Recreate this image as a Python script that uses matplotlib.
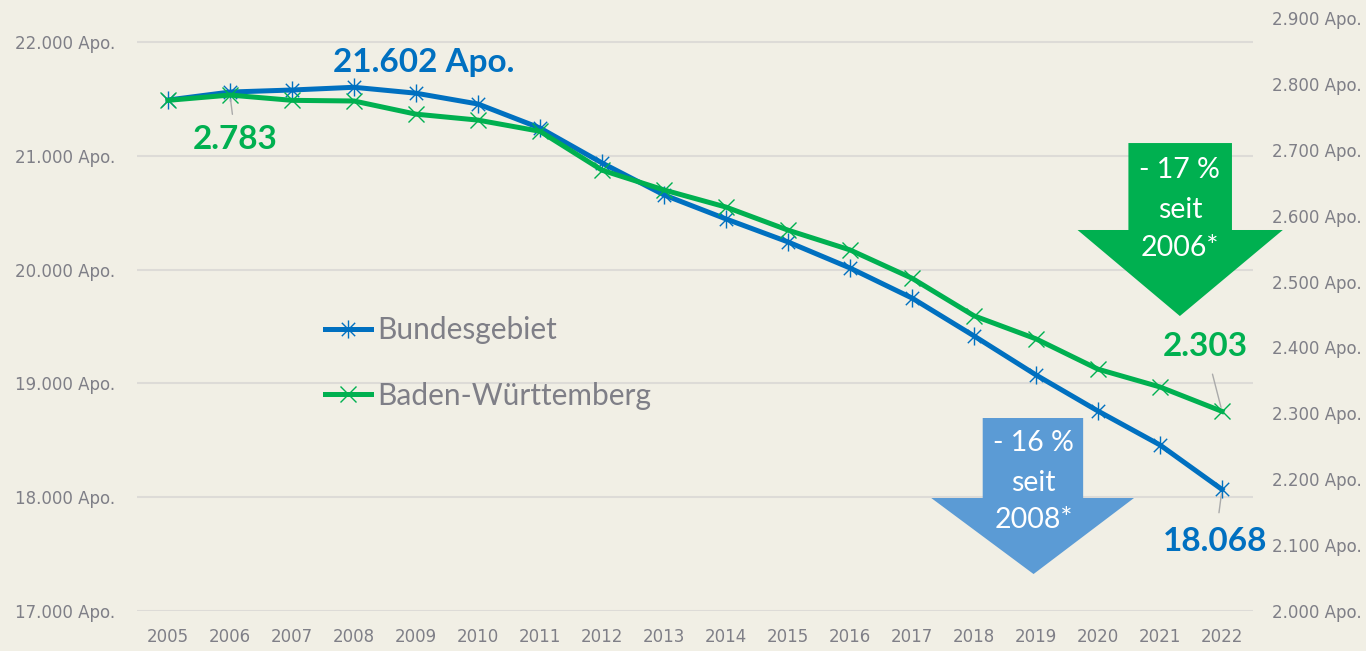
import matplotlib.pyplot as plt
from matplotlib.path import Path
from matplotlib.patches import Polygon
from matplotlib.ticker import FuncFormatter

years = list(range(2005, 2023))
bund = [21490, 21560, 21578, 21602, 21550, 21455, 21244, 20937, 20656,
        20445, 20243, 20014, 19750, 19417, 19074, 18757, 18459, 18068]
bw = [2775, 2783, 2775, 2774, 2754, 2745, 2728, 2669, 2639,
      2613, 2578, 2548, 2505, 2448, 2413, 2367, 2340, 2303]
left_ticks = [17000, 18000, 19000, 20000, 21000, 22000]
right_ticks = [2000, 2100, 2200, 2300, 2400, 2500, 2600, 2700, 2800, 2900]

bg = '#f1efe5'
blue = '#0070c0'
green = '#00b050'
lblue = '#5b9bd5'
grey = '#7f7f87'
font_txt = ['Lato', 'DejaVu Sans']

def apo(v, pos):
    return '{:,.0f} Apo.'.format(v).replace(',', '.')

# Excel-Stern: X plus senkrechter Strich
star = Path([(-1, -1), (1, 1), (-1, 1), (1, -1), (0, -1.35), (0, 1.35)],
            [Path.MOVETO, Path.LINETO, Path.MOVETO, Path.LINETO, Path.MOVETO, Path.LINETO])

fig = plt.figure(figsize=(13.66, 6.51), dpi=100, facecolor=bg)
ax = fig.add_axes([0.1003, 0.0614, 0.8170, 0.9110])
ax.set_facecolor(bg)
ax2 = ax.twinx()

l1, = ax.plot(years, bund, color=blue, lw=3.6, marker=star, ms=13, mew=1,
              mfc='none', mec=blue, label='Bundesgebiet', zorder=3)
l2, = ax2.plot(years, bw, color=green, lw=3.6, marker='x', ms=11, mew=1,
               mec=green, label='Baden-Württemberg', zorder=3)

ax.set_xlim(2004.5, 2022.5)
ax.set_ylim(17000, 22211)
ax2.set_ylim(2000, 2900)
ax.set_yticks(left_ticks)
ax2.set_yticks(right_ticks)
ax.set_xticks(years)
ax.yaxis.set_major_formatter(FuncFormatter(apo))
ax2.yaxis.set_major_formatter(FuncFormatter(apo))
ax.grid(axis='y', color='#dddbd7', lw=1.5)
ax.set_axisbelow(True)
for a in (ax, ax2):
    for s in a.spines.values():
        s.set_visible(False)
ax.tick_params(axis='y', length=0, pad=16, labelsize=12, labelcolor=grey)
ax2.tick_params(axis='y', length=0, pad=14, labelsize=12, labelcolor=grey)
ax.tick_params(axis='x', length=0, pad=12, labelsize=12, labelcolor=grey)
for t in ax.get_xticklabels():
    t.set_family(['Liberation Sans Narrow', 'DejaVu Sans'])

# Beschriftungen
ax.text(2009.12, 21824, '21.602 Apo.', color=blue, fontsize=24, fontweight='bold',
        family=font_txt, ha='center', va='center')
ax2.annotate('2.783', xy=(2006, 2783), xytext=(2006.09, 2715), color=green,
             fontsize=24, fontweight='bold', family=font_txt, ha='center', va='center',
             arrowprops=dict(arrowstyle='-', color='#aaaaaa', lw=1, shrinkA=6, shrinkB=3))
ax2.annotate('2.303', xy=(2022, 2303), xytext=(2021.73, 2402), color=green,
             fontsize=24, fontweight='bold', family=font_txt, ha='center', va='center',
             arrowprops=dict(arrowstyle='-', color='#aaaaaa', lw=1, shrinkA=8, shrinkB=3))
ax.annotate('18.068', xy=(2022, 18068), xytext=(2021.89, 17615), color=blue,
            fontsize=24, fontweight='bold', family=font_txt, ha='center', va='center',
            arrowprops=dict(arrowstyle='-', color='#aaaaaa', lw=1, shrinkA=8, shrinkB=3))

# Pfeile
g_arrow = [(2020.49, 21112), (2022.16, 21112), (2022.16, 20348), (2022.98, 20348),
           (2021.32, 19592), (2019.67, 20348), (2020.49, 20348)]
b_arrow = [(2018.14, 18696), (2019.76, 18696), (2019.76, 17993), (2020.58, 17993),
           (2018.96, 17325), (2017.31, 17993), (2018.14, 17993)]
ax2.add_patch(Polygon(g_arrow, closed=True, color=green, lw=0, zorder=5,
                      transform=ax.transData, clip_on=False))
ax2.add_patch(Polygon(b_arrow, closed=True, color=lblue, lw=0, zorder=5,
                      transform=ax.transData, clip_on=False))
for txt, y in zip(['- 17 %', 'seit', '2006*'], [20875, 20524, 20190]):
    ax2.text(2021.32, y, txt, transform=ax.transData, color='white', fontsize=20.5,
             family=font_txt, ha='center', va='center', zorder=6)
for txt, y in zip(['- 16 %', 'seit', '2008*'], [18476, 18125, 17800]):
    ax2.text(2018.96, y, txt, transform=ax.transData, color='white', fontsize=20.5,
             family=font_txt, ha='center', va='center', zorder=6)

leg = ax2.legend(handles=[l1, l2], loc='upper left', bbox_to_anchor=(0.168, 0.497),
                 frameon=False, borderpad=0, borderaxespad=0, handlelength=1.55,
                 handletextpad=0.22, labelspacing=1.26,
                 prop={'family': font_txt, 'size': 21.5})
for t in leg.get_texts():
    t.set_color(grey)

fig.savefig('out.png', dpi=100, facecolor=bg)
